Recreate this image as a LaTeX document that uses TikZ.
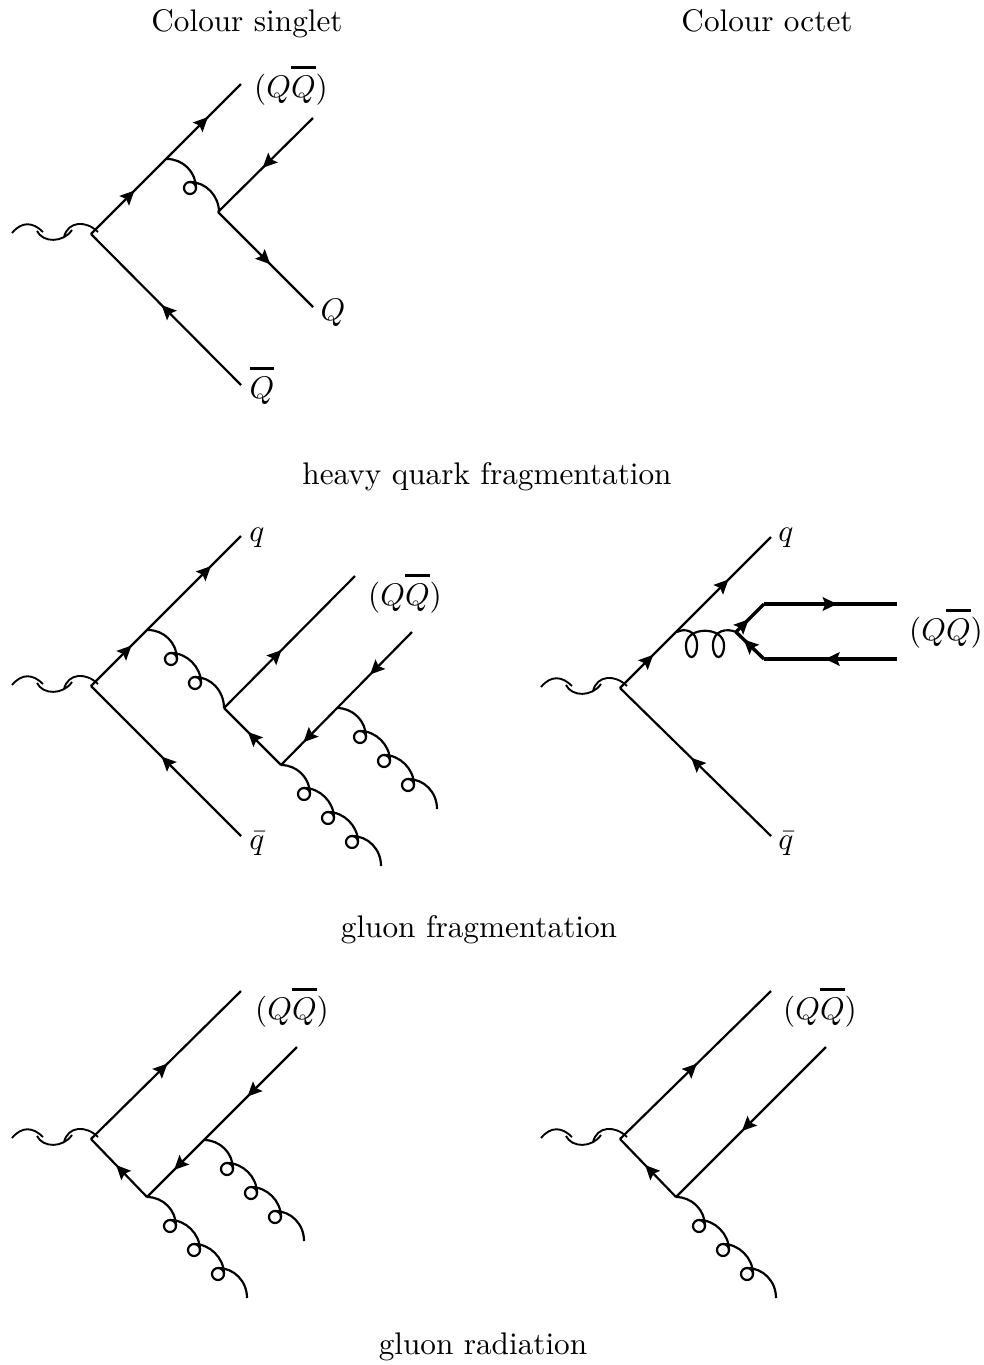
\documentclass[tikz,border=0pt]{standalone}
\usetikzlibrary{arrows.meta,decorations.markings}
\AtBeginDocument{\sbox0{$x$}\fontdimen8\textfont3=0.75pt\relax}
\tikzset{
  ln/.style={line width=0.7pt},
  thk/.style={line width=1.1pt},
  fhead/.style={postaction={decorate,decoration={markings,mark=at position #1 with {\arrow{Stealth[length=4.6pt,width=4.3pt,inset=0.8pt]}}}}},
  fheadB/.style n args={2}{postaction={decorate,decoration={markings,mark=at position #1 with {\arrow{Stealth[length=4.6pt,width=4.3pt,inset=0.8pt]}},mark=at position #2 with {\arrow{Stealth[length=4.6pt,width=4.3pt,inset=0.8pt]}}}}},
  lbl/.style={inner sep=0pt,outer sep=0pt,anchor=base},
  pics/photon/.style={code={
    \draw[line width=0.6pt] (-79,-1) .. controls (-69,-13) and (-58,-12) .. (-48,-2);
    \draw[line width=0.6pt] (-54,-3) .. controls (-48,9) and (-28,9) .. (-19,-4);
    \draw[line width=0.6pt] (-27,3) .. controls (-23,-13) and (-5,-14) .. (7,-2);
  }},
  pics/gluonone/.style={code={
    \draw[ln] (0,0) .. controls (16,0) and (29,13) .. (29,29);
    \draw[ln] (23,29) circle [radius=6];
    \draw[ln] (23,23) .. controls (39,23) and (52,37) .. (52,53);
  }},
  pics/gluontwo/.style={code={
    \draw[ln] (0,0) .. controls (16,0) and (29,13) .. (29,29);
    \draw[ln] (23,29) circle [radius=6];
    \draw[ln] (23,23) .. controls (39,23) and (53,37) .. (53,53);
    \draw[ln] (47,53) circle [radius=6];
    \draw[ln] (47,47) .. controls (63,47) and (76,61) .. (76,78);
  }},
  pics/gluonthree/.style={code={
    \draw[ln] (0,0) .. controls (16,0) and (29,13) .. (29,29);
    \draw[ln] (23,29) circle [radius=6];
    \draw[ln] (23,23) .. controls (39,23) and (53,37) .. (53,53);
    \draw[ln] (47,53) circle [radius=6];
    \draw[ln] (47,47) .. controls (63,47) and (77,61) .. (77,77);
    \draw[ln] (71,77) circle [radius=6];
    \draw[ln] (71,71) .. controls (87,71) and (100,84) .. (100,101);
  }}
}
\begin{document}
\begin{tikzpicture}[x=0.32pt,y=-0.32pt]
\useasboundingbox (0,0) rectangle (984,1365);
% headings
\node[lbl] (h1) at (247,31) {Colour singlet};
\node[lbl] (h2) at (767,31) {Colour octet};
\node[lbl] (t1) at (487,484) {heavy quark fragmentation};
\node[lbl] (t2) at (479,937) {gluon fragmentation};
\node[lbl] (t3) at (483,1354) {gluon radiation};
% panel A
\coordinate (a0) at (91,234);
\coordinate (a1) at (241,84);
\coordinate (a2) at (241,385);
\coordinate (a3) at (167,159);
\coordinate (a4) at (218,212);
\coordinate (a5) at (313,118);
\coordinate (a6) at (313,307);
\pic at (a0) {photon};
\pic at (a3) {gluonone};
\draw[ln,fheadB={0.29}{0.78}] (a0) -- (a1);
\draw[ln,fhead=0.53] (a2) -- (a0);
\draw[ln,fhead=0.53] (a5) -- (a4);
\draw[ln,fhead=0.55] (a4) -- (a6);
\node[lbl] (la1) at (291,97) {$(Q\overline{Q})$};
\node[lbl] (la2) at (333,320) {$Q$};
\node[lbl] (la3) at (262,398) {$\overline{Q}$};
% panel B
\coordinate (b0) at (91,686);
\coordinate (b1) at (241,536);
\coordinate (b2) at (241,836);
\coordinate (b3) at (148,630);
\coordinate (b4) at (224,708);
\coordinate (b5) at (355,576);
\coordinate (b6) at (281,765);
\coordinate (b7) at (412,632);
\coordinate (b8) at (337,708);
\pic at (b0) {photon};
\pic at (b3) {gluontwo};
\pic at (b8) {gluonthree};
\pic at (b6) {gluonthree};
\draw[ln,fheadB={0.27}{0.8}] (b0) -- (b1);
\draw[ln,fhead=0.53] (b2) -- (b0);
\draw[ln,fhead=0.44] (b4) -- (b5);
\draw[ln,fhead=0.58] (b6) -- (b4);
\draw[ln,fheadB={0.32}{0.83}] (b7) -- (b6);
\node[lbl] (lb1) at (257,541) {$q$};
\node[lbl] (lb2) at (257,849) {$\bar q$};
\node[lbl] (lb3) at (405,605) {$(Q\overline{Q})$};
% panel C
\coordinate (c0) at (620,688);
\coordinate (c1) at (771,537);
\coordinate (c2) at (771,836);
\coordinate (c3) at (677,632);
\coordinate (c4) at (736,632);
\coordinate (c5) at (764,604);
\coordinate (c6) at (897,604);
\coordinate (c7) at (764,659);
\coordinate (c8) at (897,659);
\pic at (c0) {photon};
\draw[ln] (c3) .. controls (684,628) and (697,630) .. (697,645)
  .. controls (697,661) and (686,661) .. (686,645)
  .. controls (686,626) and (724,626) .. (724,645)
  .. controls (724,661) and (713,661) .. (713,645)
  .. controls (713,630) and (727,628) .. (c4);
\draw[ln,fheadB={0.22}{0.72}] (c0) -- (c1);
\draw[ln,fhead=0.53] (c2) -- (c0);
\draw[thk,fhead=0.45] (c4) -- (c5);
\draw[thk,fhead=0.55] (c5) -- (c6);
\draw[thk,fhead=0.54] (c8) -- (c7);
\draw[thk,fhead=0.72] (c7) -- (c4);
\node[lbl] (lc1) at (786,541) {$q$};
\node[lbl] (lc2) at (786,849) {$\bar q$};
\node[lbl] (lc3) at (946,640) {$(Q\overline{Q})$};
% panel D
\coordinate (d0) at (91,1139);
\coordinate (d1) at (241,991);
\coordinate (d2) at (147,1197);
\coordinate (d3) at (297,1047);
\coordinate (d4) at (204,1140);
\pic at (d0) {photon};
\pic at (d4) {gluonthree};
\pic at (d2) {gluonthree};
\draw[ln,fhead=0.51] (d0) -- (d1);
\draw[ln,fhead=0.55] (d2) -- (d0);
\draw[ln,fheadB={0.33}{0.82}] (d3) -- (d2);
\node[lbl] (ld1) at (292,1019) {$(Q\overline{Q})$};
% panel E
\coordinate (e0) at (620,1139);
\coordinate (e1) at (771,991);
\coordinate (e2) at (676,1197);
\coordinate (e3) at (826,1047);
\pic at (e0) {photon};
\pic at (e2) {gluonthree};
\draw[ln,fhead=0.51] (e0) -- (e1);
\draw[ln,fhead=0.55] (e2) -- (e0);
\draw[ln,fhead=0.56] (e3) -- (e2);
\node[lbl] (le1) at (820,1019) {$(Q\overline{Q})$};
\end{tikzpicture}
\end{document}
